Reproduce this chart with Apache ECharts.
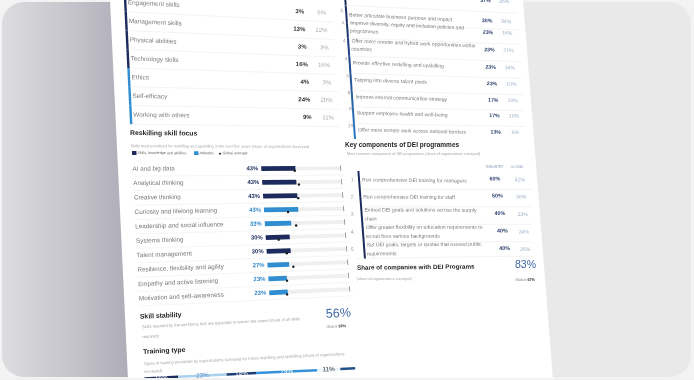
<!DOCTYPE html>
<html>
<head>
<meta charset="utf-8">
<title>Industry profile</title>
<script src="https://cdn.jsdelivr.net/npm/echarts@6/dist/echarts.min.js"></script>
<style>
  html, body { margin: 0; padding: 0; width: 694px; height: 380px; background: #f3f3f3; overflow: hidden; }
  #chart { width: 694px; height: 380px; filter: blur(0.3px); }
</style>
</head>
<body>
<div id="chart"></div>
<script>
// skills (top left, list is cut off by the top edge)
const skillCats = ['Engagement skills', 'Management skills', 'Physical abilities', 'Technology skills', 'Ethics', 'Self-efficacy', 'Working with others'];
const skillIndustry = [3, 13, 3, 16, 4, 24, 9];
const skillGlobal = [6, 12, 3, 16, 3, 20, 11];
const skillGroup = ['k', 'k', 'k', 'k', 'a', 'a', 'a']; // k = skills, knowledge and abilities, a = attitudes

// reskilling skill focus
const reskillCats = ['AI and big data', 'Analytical thinking', 'Creative thinking', 'Curiosity and lifelong learning',
  'Leadership and social influence', 'Systems thinking', 'Talent management', 'Resilience, flexibility and agility',
  'Empathy and active listening', 'Motivation and self-awareness'];
const reskillValues = [43, 43, 43, 43, 33, 30, 30, 27, 23, 23];
const reskillGlobal = [42, 46, 44, 30, 39, 16, 25, 32, 23, 22];
const reskillGroup = ['k', 'k', 'k', 'a', 'a', 'k', 'k', 'a', 'a', 'a'];
const TRACK_MAX = 100;

const skillStability = 56, skillStabilityGlobal = 59;

// training type (stacked bar, bottom left, cut off)
const trainingNames = ['Internal training', 'On-the-job coaching', 'Online learning', 'External providers', 'Apprenticeships', 'Other'];
const trainingValues = [16, 23, 14, 29, 11, 7];

// workforce strategies (top right)
const strategyRank = ['2.', '3.', '4.', '4.', '4.', '4.', '8.', '8.', '10.'];
const strategyCats = ['Improve talent progression and promotion processes', 'Better articulate business purpose and impact',
  'Improve diversity, equity and inclusion policies and\nprogrammes', 'Offer more remote and hybrid work opportunities within\ncountries',
  'Provide effective reskilling and upskilling', 'Tapping into diverse talent pools', 'Improve internal communication strategy',
  'Support employee health and well-being', 'Offer more remote work across national borders'];
const strategyIndustry = [37, 30, 23, 23, 23, 23, 17, 17, 13];
const strategyGlobal = [35, 34, 16, 21, 34, 10, 10, 10, 6];

// DEI programmes
const deiCats = ['Run comprehensive DEI training for managers', 'Run comprehensive DEI training for staff',
  'Embed DEI goals and solutions across the supply\nchain', 'Offer greater flexibility on education requirements to\nrecruit from various backgrounds',
  'Set DEI goals, targets or quotas that exceed public\nrequirements'];
const deiIndustry = [60, 50, 40, 40, 40];
const deiGlobal = [42, 36, 23, 24, 26];
const deiShare = 83, deiShareGlobal = 67;

const FONT = "'Liberation Sans', Arial, sans-serif";
const NAVY = '#1c2b5c';
const BLUE = '#2f8dd0';
const BLUE_TXT = '#2d86c8';
const BIG_BLUE = '#3a66a4';

// the sheet is photographed bent: left half mapped from flat sheet coords to the screen
function slope(ly) { return Math.max(-0.05, Math.min(0.06, 0.047 - 0.00034 * (ly - 21))); }
function W(lx, ly) { return [110 + 0.047 * ly + lx * (1 + 0.0001 * ly), ly + slope(ly) * lx]; }
// right half: row slope on screen
function sr(y) { return 0.046 - 0.00023 * y; }

function text(x, y, s, size, color, o) {
  o = o || {};
  return { type: 'text', x: x, y: y, rotation: o.rot || 0, silent: true, z: 20,
    style: { text: s, fontSize: size, fill: color, fontFamily: FONT, fontWeight: o.bold ? 'bold' : 'normal',
      align: o.align || 'left', verticalAlign: o.va || 'middle', lineHeight: o.lh, rich: o.rich } };
}
function ltext(lx, ly, s, size, color, o) {
  const p = W(lx, ly);
  o = Object.assign({}, o || {}, { rot: -Math.atan(slope(ly)) });
  return text(p[0], p[1], s, size, color, o);
}
function poly(pts, fill, z) { return { type: 'polygon', silent: true, z: z || 10, shape: { points: pts }, style: { fill: fill } }; }
function lrect(x, y, w, h, fill) { return poly([W(x, y), W(x + w, y), W(x + w, y + h), W(x, y + h)], fill); }
function seg(a, b, color) {
  return { type: 'polyline', silent: true, z: 10, shape: { points: [a, b] }, style: { stroke: color || '#ebebeb', lineWidth: 0.6, fill: null } };
}
function lline(x1, x2, ly, color) { return seg(W(x1, ly), W(x2, ly), color); }
const globalRich = { a: { fontSize: 3.8, fill: '#888', fontFamily: FONT }, b: { fontSize: 3.8, fill: '#333', fontWeight: 'bold', fontFamily: FONT } };

const g = [];
// background: card, dark side panel, white sheet
g.push({ type: 'rect', silent: true, z: 0, shape: { x: 2, y: 2, width: 689, height: 375, r: 22 }, style: { fill: '#e9e9e9' } });
g.push({ type: 'rect', silent: true, z: 1, shape: { x: 2, y: 2, width: 170, height: 375, r: [22, 0, 0, 22] },
  style: { fill: new echarts.graphic.LinearGradient(2, 0, 130, 0, [
    { offset: 0, color: '#dddde0' }, { offset: 0.6, color: '#c2c1c9' }, { offset: 1, color: '#adacb7' }], true) } });
g.push(poly([[110, 0], [523, 0], [553, 380], [128, 380]], '#ffffff', 2));

// skills list
const SK_TOP = 1.5, SK_STEP = 18.85;
skillCats.forEach(function (name, i) {
  const y = SK_TOP + SK_STEP * i;
  const y0 = i === 0 ? -6 : y - SK_STEP / 2;
  g.push(lrect(14, y0, 2.4, y + SK_STEP / 2 - y0, skillGroup[i] === 'k' ? NAVY : BLUE));
  g.push(ltext(17.8, y, name, 6.4, '#7d7d7d'));
  g.push(ltext(194, y, skillIndustry[i] + '%', 6, '#333', { bold: true, align: 'right' }));
  g.push(ltext(216, y, skillGlobal[i] + '%', 6, '#ababab', { align: 'right' }));
  g.push(lline(18, 222, y + SK_STEP / 2));
});

// reskilling header + legend
g.push(ltext(13.6, 133, 'Reskilling skill focus', 6.8, '#1e1e1e', { bold: true }));
g.push(ltext(13.6, 146, 'Skills most prioritized for reskilling and upskilling in the next five years (share of organizations surveyed)', 3.9, '#a5a5a5'));
g.push(lrect(14.6, 151, 4.4, 4, NAVY));
g.push(ltext(20, 153, 'Skills, knowledge and abilities', 3.7, '#666'));
g.push(lrect(75.7, 151, 4.4, 4, BLUE));
g.push(ltext(81, 153, 'Attitudes', 3.7, '#666'));
g.push({ type: 'circle', silent: true, z: 10, shape: { cx: W(101.3, 153.5)[0], cy: W(101.3, 153.5)[1], r: 1 }, style: { fill: '#222' } });
g.push(ltext(103.8, 153, 'Global average', 3.7, '#666'));

const RS_TOP = 169, RS_STEP = 14.5, RS_LEFT = 141, RS_W = 78;
for (let k = 0; k < reskillCats.length; k++) {
  g.push(lline(14, 222, RS_TOP + RS_STEP * k + RS_STEP / 2, '#eeeeee'));
}

// skill stability
g.push(ltext(14.6, 317.7, 'Skill stability', 6.8, '#1e1e1e', { bold: true }));
g.push(ltext(218.5, 324, skillStability + '%', 12.5, BIG_BLUE, { align: 'right' }));
g.push(ltext(213, 336.6, '{a|Global }{b|' + skillStabilityGlobal + '%}', 4, '#777', { align: 'right', rich: globalRich }));
g.push(ltext(16, 327.8, 'Skills required by the workforce that are expected to remain the same (share of all skills', 4.1, '#a5a5a5'));
g.push(ltext(16, 337.8, 'required)', 4.1, '#a5a5a5'));
g.push(ltext(16, 352.8, 'Training type', 6.8, '#1e1e1e', { bold: true }));
g.push(ltext(16, 364.8, 'Types of training prioritized by organizations surveyed for future reskilling and upskilling (share of organizations', 4.1, '#a5a5a5'));
g.push(ltext(16, 372.6, 'surveyed)', 4.1, '#a5a5a5'));

// workforce strategies column (screen space, own row slope)
const wsRowY = [-8, 15, 27, 45, 63, 80, 97, 113, 130];
g.push(poly([[344.2, -2], [346.2, -2], [356, 139], [354, 139]],
  new echarts.graphic.LinearGradient(0, -2, 0, 139, [{ offset: 0, color: NAVY }, { offset: 0.35, color: '#1f3f7e' }, { offset: 1, color: '#2b7cc4' }], true)));
strategyCats.forEach(function (name, i) {
  const y = wsRowY[i];
  const tx = 348 + 0.077 * y;
  const ix = 486 + 0.075 * y, gx = 505 + 0.08 * y;
  const r = -Math.atan(sr(y) + 0.006);
  const vy = i === 0 ? 2 : 0; // first row is mostly above the edge, only its figures peek in
  g.push(text(343 + 0.09 * y, y - 4, strategyRank[i], 5, '#9a9a9a', { align: 'right', rot: r }));
  g.push(text(tx, y, name, 5.1, '#7a7a7a', { lh: 8, rot: r }));
  g.push(text(ix, y + vy + sr(y) * (ix - tx), strategyIndustry[i] + '%', 5.2, '#2a3d6c', { bold: true, align: 'center', rot: r }));
  g.push(text(gx, y + vy + sr(y) * (gx - tx), strategyGlobal[i] + '%', 5.2, '#9fb0c8', { align: 'center', rot: r }));
  if (i < strategyCats.length - 1) {
    const ym = (y + wsRowY[i + 1]) / 2 + 2;
    g.push(seg([tx - 2, ym], [gx + 12, ym + sr(ym) * (gx + 14 - tx)]));
  }
});

// DEI programmes
g.push(text(345, 145, 'Key components of DEI programmes', 6.5, '#1e1e1e', { bold: true }));
g.push(text(347, 154, 'Most common components of DEI programmes (share of organizations surveyed)', 3.7, '#a5a5a5'));
g.push(text(495, 167, 'INDUSTRY', 3.4, '#7c8fb0', { align: 'center' }));
g.push(text(517, 167, 'GLOBAL', 3.4, '#a0aec5', { align: 'center' }));
const deiRowY = [180, 197, 214.5, 232, 249.5];
g.push(poly([[357.4, 171], [359.4, 171], [366, 259], [364, 259]], NAVY));
deiCats.forEach(function (name, i) {
  const y = deiRowY[i];
  const r = -Math.atan(sr(y) + 0.006);
  g.push(text(355, y, (i + 1) + '.', 5, '#9a9a9a', { align: 'right', rot: r }));
  g.push(text(362 + 0.07 * (y - 180), y, name, 5.1, '#7a7a7a', { lh: 9, rot: r }));
  g.push(text(495 + 0.14 * (y - 180), y - 1, deiIndustry[i] + '%', 5.4, '#2a3d6c', { bold: true, align: 'center', rot: r }));
  g.push(text(520 + 0.075 * (y - 180), y, deiGlobal[i] + '%', 5.2, '#9fb0c8', { align: 'center', rot: r }));
  if (i < deiCats.length - 1) {
    const ym = (y + deiRowY[i + 1]) / 2 + 1;
    g.push(seg([362 + 0.07 * (ym - 180), ym], [532, ym]));
  }
});
g.push(seg([357, 258.5], [533, 256]));
g.push(text(357, 268, 'Share of companies with DEI Programs', 6.3, '#1e1e1e', { bold: true, rot: 0.01 }));
g.push(text(357, 279, '(share of organizations surveyed)', 3.7, '#a5a5a5'));
g.push(text(536, 265, deiShare + '%', 10.5, BIG_BLUE, { align: 'right' }));
g.push(text(535, 280, '{a|Global }{b|' + deiShareGlobal + '%}', 4, '#777', { align: 'right', rich: globalRich }));

// light border strip under the sheet
g.push({ type: 'rect', silent: true, z: 50, shape: { x: 0, y: 378, width: 694, height: 4 }, style: { fill: '#f1f1f1' } });

const trainColors = ['#1e2d5e', '#a9d1ee', '#1f3d73', '#3592d6', '#e6f1fa', '#24508a'];
const trainLabel = ['#ffffff', '#5d8fc0', '#ffffff', '#ffffff', '#333333', '#ffffff'];
let acc = 0;
const trainingData = trainingValues.map(function (v, i) { const d = [acc, acc + v, i, v]; acc += v; return d; });

// bars are laid out by the axes in flat sheet coordinates, then bent onto the photo with W
function reskillItem(params, api) {
  const i = api.value(1), v = api.value(0), gv = api.value(2);
  const p0 = api.coord([0, i]), p1 = api.coord([v, i]), pm = api.coord([TRACK_MAX, i]), pg = api.coord([gv, i]);
  const ly = p0[1], h = 5;
  const col = reskillGroup[i] === 'k' ? NAVY : BLUE;
  const tr = -Math.atan(slope(ly));
  const gp = W(pg[0], ly + 2.6), lp = W(p0[0] - 3, ly), cp = W(14.3, ly);
  return { type: 'group', children: [
    { type: 'polygon', shape: { points: [W(p0[0], ly - 2), W(pm[0], ly - 2), W(pm[0], ly + 2), W(p0[0], ly + 2)] }, style: { fill: '#efefef' } },
    { type: 'polygon', shape: { points: [W(pm[0] - 0.4, ly - 3), W(pm[0] + 0.4, ly - 3), W(pm[0] + 0.4, ly + 3), W(pm[0] - 0.4, ly + 3)] }, style: { fill: '#8f8f8f' } },
    { type: 'polygon', shape: { points: [W(p0[0], ly - h / 2), W(p1[0], ly - h / 2), W(p1[0], ly + h / 2), W(p0[0], ly + h / 2)] }, style: { fill: col } },
    { type: 'circle', shape: { cx: gp[0], cy: gp[1], r: 1.2 }, style: { fill: '#1a1a1a' } },
    { type: 'text', x: lp[0], y: lp[1], rotation: tr, style: { text: v + '%', fontSize: 5.9, fontWeight: 'bold', fontFamily: FONT,
      fill: reskillGroup[i] === 'k' ? NAVY : BLUE_TXT, align: 'right', verticalAlign: 'middle' } },
    { type: 'text', x: cp[0], y: cp[1], rotation: tr, style: { text: reskillCats[i], fontSize: 6.3, fontFamily: FONT,
      fill: '#777', align: 'left', verticalAlign: 'middle' } }
  ] };
}
function trainingItem(params, api) {
  const a = api.coord([api.value(0), 0]), b = api.coord([api.value(1), 0]);
  const i = api.value(2), v = api.value(3);
  const hh = api.size([0, 1])[1] / 2, ly = a[1];
  const c = W((a[0] + b[0]) / 2, ly);
  const children = [{ type: 'polygon', shape: { points: [W(a[0], ly - hh), W(b[0], ly - hh), W(b[0], ly + hh), W(a[0], ly + hh)] },
    style: { fill: trainColors[i] } }];
  if (v >= 10) {
    children.push({ type: 'text', x: c[0], y: c[1], rotation: -Math.atan(slope(ly)),
      style: { text: v + '%', fontSize: 6.3, fontFamily: FONT, fill: trainLabel[i], align: 'center', verticalAlign: 'middle' } });
  }
  return { type: 'group', children: children };
}

const chart = echarts.init(document.getElementById('chart'));
chart.setOption({
  animation: false,
  textStyle: { fontFamily: FONT },
  grid: [
    { left: RS_LEFT, top: RS_TOP - RS_STEP / 2, width: RS_W, height: RS_STEP * reskillCats.length },
    { left: 16, top: 378, width: 203, height: 10 }
  ],
  xAxis: [
    { gridIndex: 0, type: 'value', min: 0, max: TRACK_MAX, show: false },
    { gridIndex: 1, type: 'value', min: 0, max: 100, show: false }
  ],
  yAxis: [
    { gridIndex: 0, type: 'category', data: reskillCats, inverse: true, show: false },
    { gridIndex: 1, type: 'category', data: ['Training'], show: false }
  ],
  series: [
    { type: 'custom', xAxisIndex: 0, yAxisIndex: 0, clip: false, z: 15, renderItem: reskillItem,
      data: reskillValues.map(function (v, i) { return [v, i, reskillGlobal[i]]; }) },
    { type: 'custom', name: 'Training type', xAxisIndex: 1, yAxisIndex: 1, clip: false, z: 15, renderItem: trainingItem,
      dimensions: ['start', 'end', 'index', 'share'], encode: { x: [0, 1], y: 2 },
      data: trainingData }
  ],
  graphic: g
});
</script>
</body>
</html>
